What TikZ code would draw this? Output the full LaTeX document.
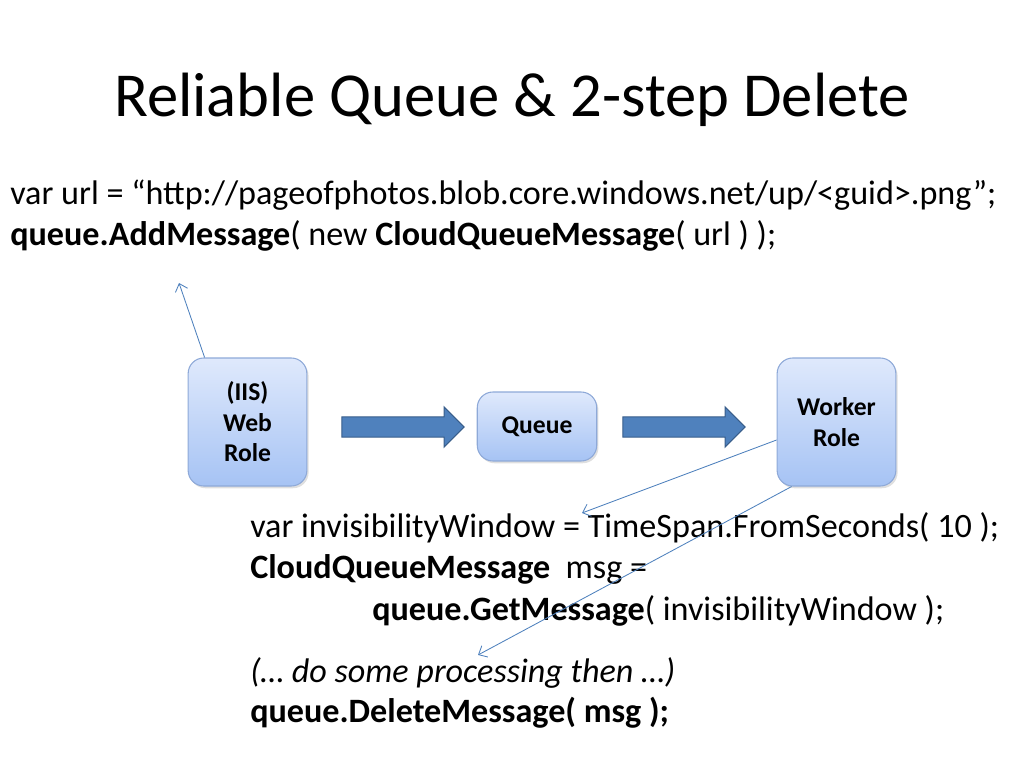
\documentclass[tikz,border=0pt]{standalone}
\usepackage{fontspec}
\setmainfont{Carlito}
\usetikzlibrary{arrows.meta,shapes.arrows,shadows}

\definecolor{roletop}{HTML}{DFE9FC}
\definecolor{rolebot}{HTML}{A6C3F4}
\definecolor{roleline}{HTML}{8EA9D8}
\definecolor{fatfill}{HTML}{4F81BD}
\definecolor{fatline}{HTML}{385D8A}
\definecolor{thin}{HTML}{4F81BD}

\begin{document}
\begin{tikzpicture}[x=0.703125pt,y=-0.703125pt,
    role/.style={draw=roleline, line width=0.75pt, rounded corners=11pt,
        top color=roletop, bottom color=rolebot, align=center, inner sep=0pt,
        font=\fontsize{18}{21.5}\selectfont\bfseries,
        drop shadow={opacity=0.25, shadow xshift=1.2pt, shadow yshift=-1.6pt}},
    fat/.style={single arrow, draw=fatline, fill=fatfill, line width=0.75pt,
        minimum height=86pt, single arrow head extend=7pt,
        inner sep=6.7pt},
    call/.style={draw=thin, line width=0.6pt, -{Straight Barb[length=5pt,width=9pt]}},
    code/.style={anchor=base west, inner sep=0pt, font=\fontsize{24}{28}\selectfont}]
    \useasboundingbox (0,0) rectangle (1024,768);
    % title
    \node [anchor=base, inner sep=0pt, font=\fontsize{44}{52}\selectfont] (title) at (512,117) {Reliable Queue \& 2-step Delete};
    % enqueue code
    \node [code] (url) at (10,205) {var url = “http://pageofphotos.blob.core.windows.net/up/<guid>.png”;};
    \node [code] (add) at (10,246) {\textbf{queue.AddMessage}( new \textbf{CloudQueueMessage}( url ) );};
    % roles and queue
    \node [role, minimum width=83.5pt, minimum height=90pt] (web) at (247.5,422) {(IIS)\\Web\\Role};
    \node [role, minimum width=84pt, minimum height=48.5pt] (queue) at (537,426.5) {Queue};
    \node [role, minimum width=83.5pt, minimum height=90pt] (worker) at (836.5,422) {Worker\\Role};
    \node [fat] (push) at (398,427) {};
    \node [fat] (pull) at (679,427) {};
    % dequeue code
    \node [code] (win) at (250,537) {var invisibilityWindow = TimeSpan.FromSeconds( 10 );};
    \node [code] (msg) at (250,578) {\textbf{CloudQueueMessage}\ \ msg =};
    \node [code] (get) at (372,620) {\textbf{queue.GetMessage}( invisibilityWindow );};
    \node [code] (proc) at (250,682) {\textit{(… do some processing then …)}};
    \node [code] (del) at (250,722) {\textbf{queue.DeleteMessage( msg );}};
    % thin pointers
    \coordinate (addtip) at (179,283);
    \coordinate (gettip) at (582,513);
    \coordinate (deltip) at (478,655);
    \draw [call] (web.north west) ++(17,0) -- (addtip);
    \draw [call] (worker.west) ++(0,18) -- (gettip);
    \draw [call] (worker.south west) ++(15,0) -- (deltip);
\end{tikzpicture}
\end{document}
